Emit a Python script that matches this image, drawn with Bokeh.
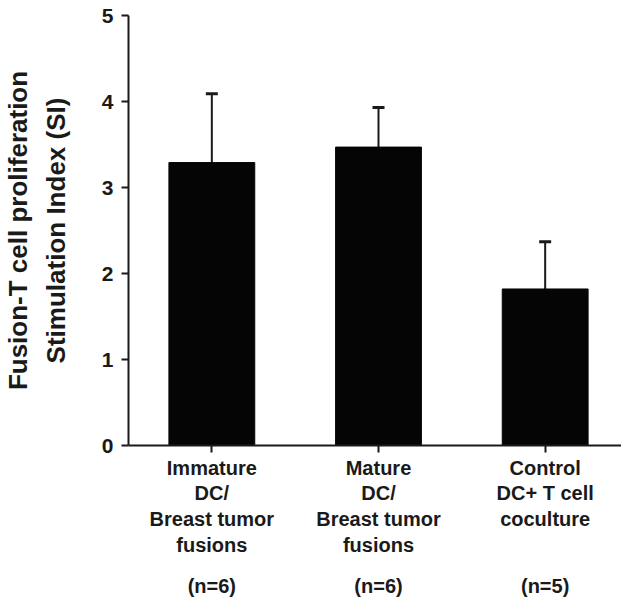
from bokeh.plotting import figure
from bokeh.models import Range1d, FixedTicker, LinearAxis, ColumnDataSource, Whisker, TeeHead
from bokeh.embed import file_html
from bokeh.resources import INLINE

categories = ["Immature\nDC/\nBreast tumor\nfusions", "Mature\nDC/\nBreast tumor\nfusions", "Control\nDC+ T cell\ncoculture"]
n_labels = ["(n=6)", "(n=6)", "(n=5)"]
si_mean = [3.29, 3.47, 1.82]
si_upper = [4.09, 3.93, 2.37]
y_ticks = [0, 1, 2, 3, 4, 5]

xpos = [i + 0.5 for i in range(len(categories))]
FONT = "Liberation Sans"
INK = "#1a1a1a"

p = figure(width=621, height=599, output_backend="svg", toolbar_location=None,
           x_range=Range1d(0, 2.958), y_range=Range1d(0, 5),
           min_border_left=127, min_border_right=0, min_border_top=15, min_border_bottom=0)
p.outline_line_color = None
p.grid.visible = False

src = ColumnDataSource(dict(x=xpos, top=si_mean, upper=si_upper))
p.vbar(x="x", top="top", bottom=0, width=0.515, source=src, fill_color="#050505", line_color="#050505")
wh = Whisker(base="x", lower="top", upper="upper", source=src, line_color=INK, line_width=2,
             upper_head=TeeHead(size=12, line_color=INK, line_width=3), lower_head=None)
p.add_layout(wh)

# y axis
ya = p.yaxis[0]
ya.ticker = FixedTicker(ticks=y_ticks)
ya.axis_line_width = 2
ya.axis_line_color = INK
ya.major_tick_line_width = 2
ya.major_tick_line_color = INK
ya.major_tick_out = 7
ya.major_tick_in = 0
ya.minor_tick_line_color = None
ya.major_label_text_font = FONT
ya.major_label_text_font_style = "bold"
ya.major_label_text_font_size = "21px"
ya.major_label_text_color = INK
ya.major_label_standoff = 8
ya.axis_label = "Fusion-T cell proliferation\nStimulation Index (SI)"
ya.axis_label_text_font = FONT
ya.axis_label_text_font_style = "bold"
ya.axis_label_text_font_size = "26px"
ya.axis_label_text_line_height = 1.25
ya.axis_label_text_color = INK
ya.axis_label_standoff = 28

# x axis
xa = p.xaxis[0]
xa.ticker = FixedTicker(ticks=xpos)
xa.major_label_overrides = {x: c for x, c in zip(xpos, categories)}
xa.axis_line_width = 2
xa.axis_line_color = INK
xa.major_tick_line_width = 2
xa.major_tick_line_color = INK
xa.major_tick_out = 7
xa.major_tick_in = 0
xa.minor_tick_line_color = None
xa.major_label_text_font = FONT
xa.major_label_text_font_style = "bold"
xa.major_label_text_font_size = "20px"
xa.major_label_text_color = INK
xa.major_label_text_line_height = 1.18
xa.major_label_standoff = 4

na = LinearAxis(ticker=FixedTicker(ticks=xpos))
na.major_label_overrides = {x: c for x, c in zip(xpos, n_labels)}
na.axis_line_color = None
na.major_tick_line_color = None
na.minor_tick_line_color = None
na.major_label_text_font = FONT
na.major_label_text_font_style = "bold"
na.major_label_text_font_size = "20px"
na.major_label_text_color = INK
na.major_label_standoff = 9
p.add_layout(na, "below")

open("out.html", "w").write(file_html(p, INLINE))
